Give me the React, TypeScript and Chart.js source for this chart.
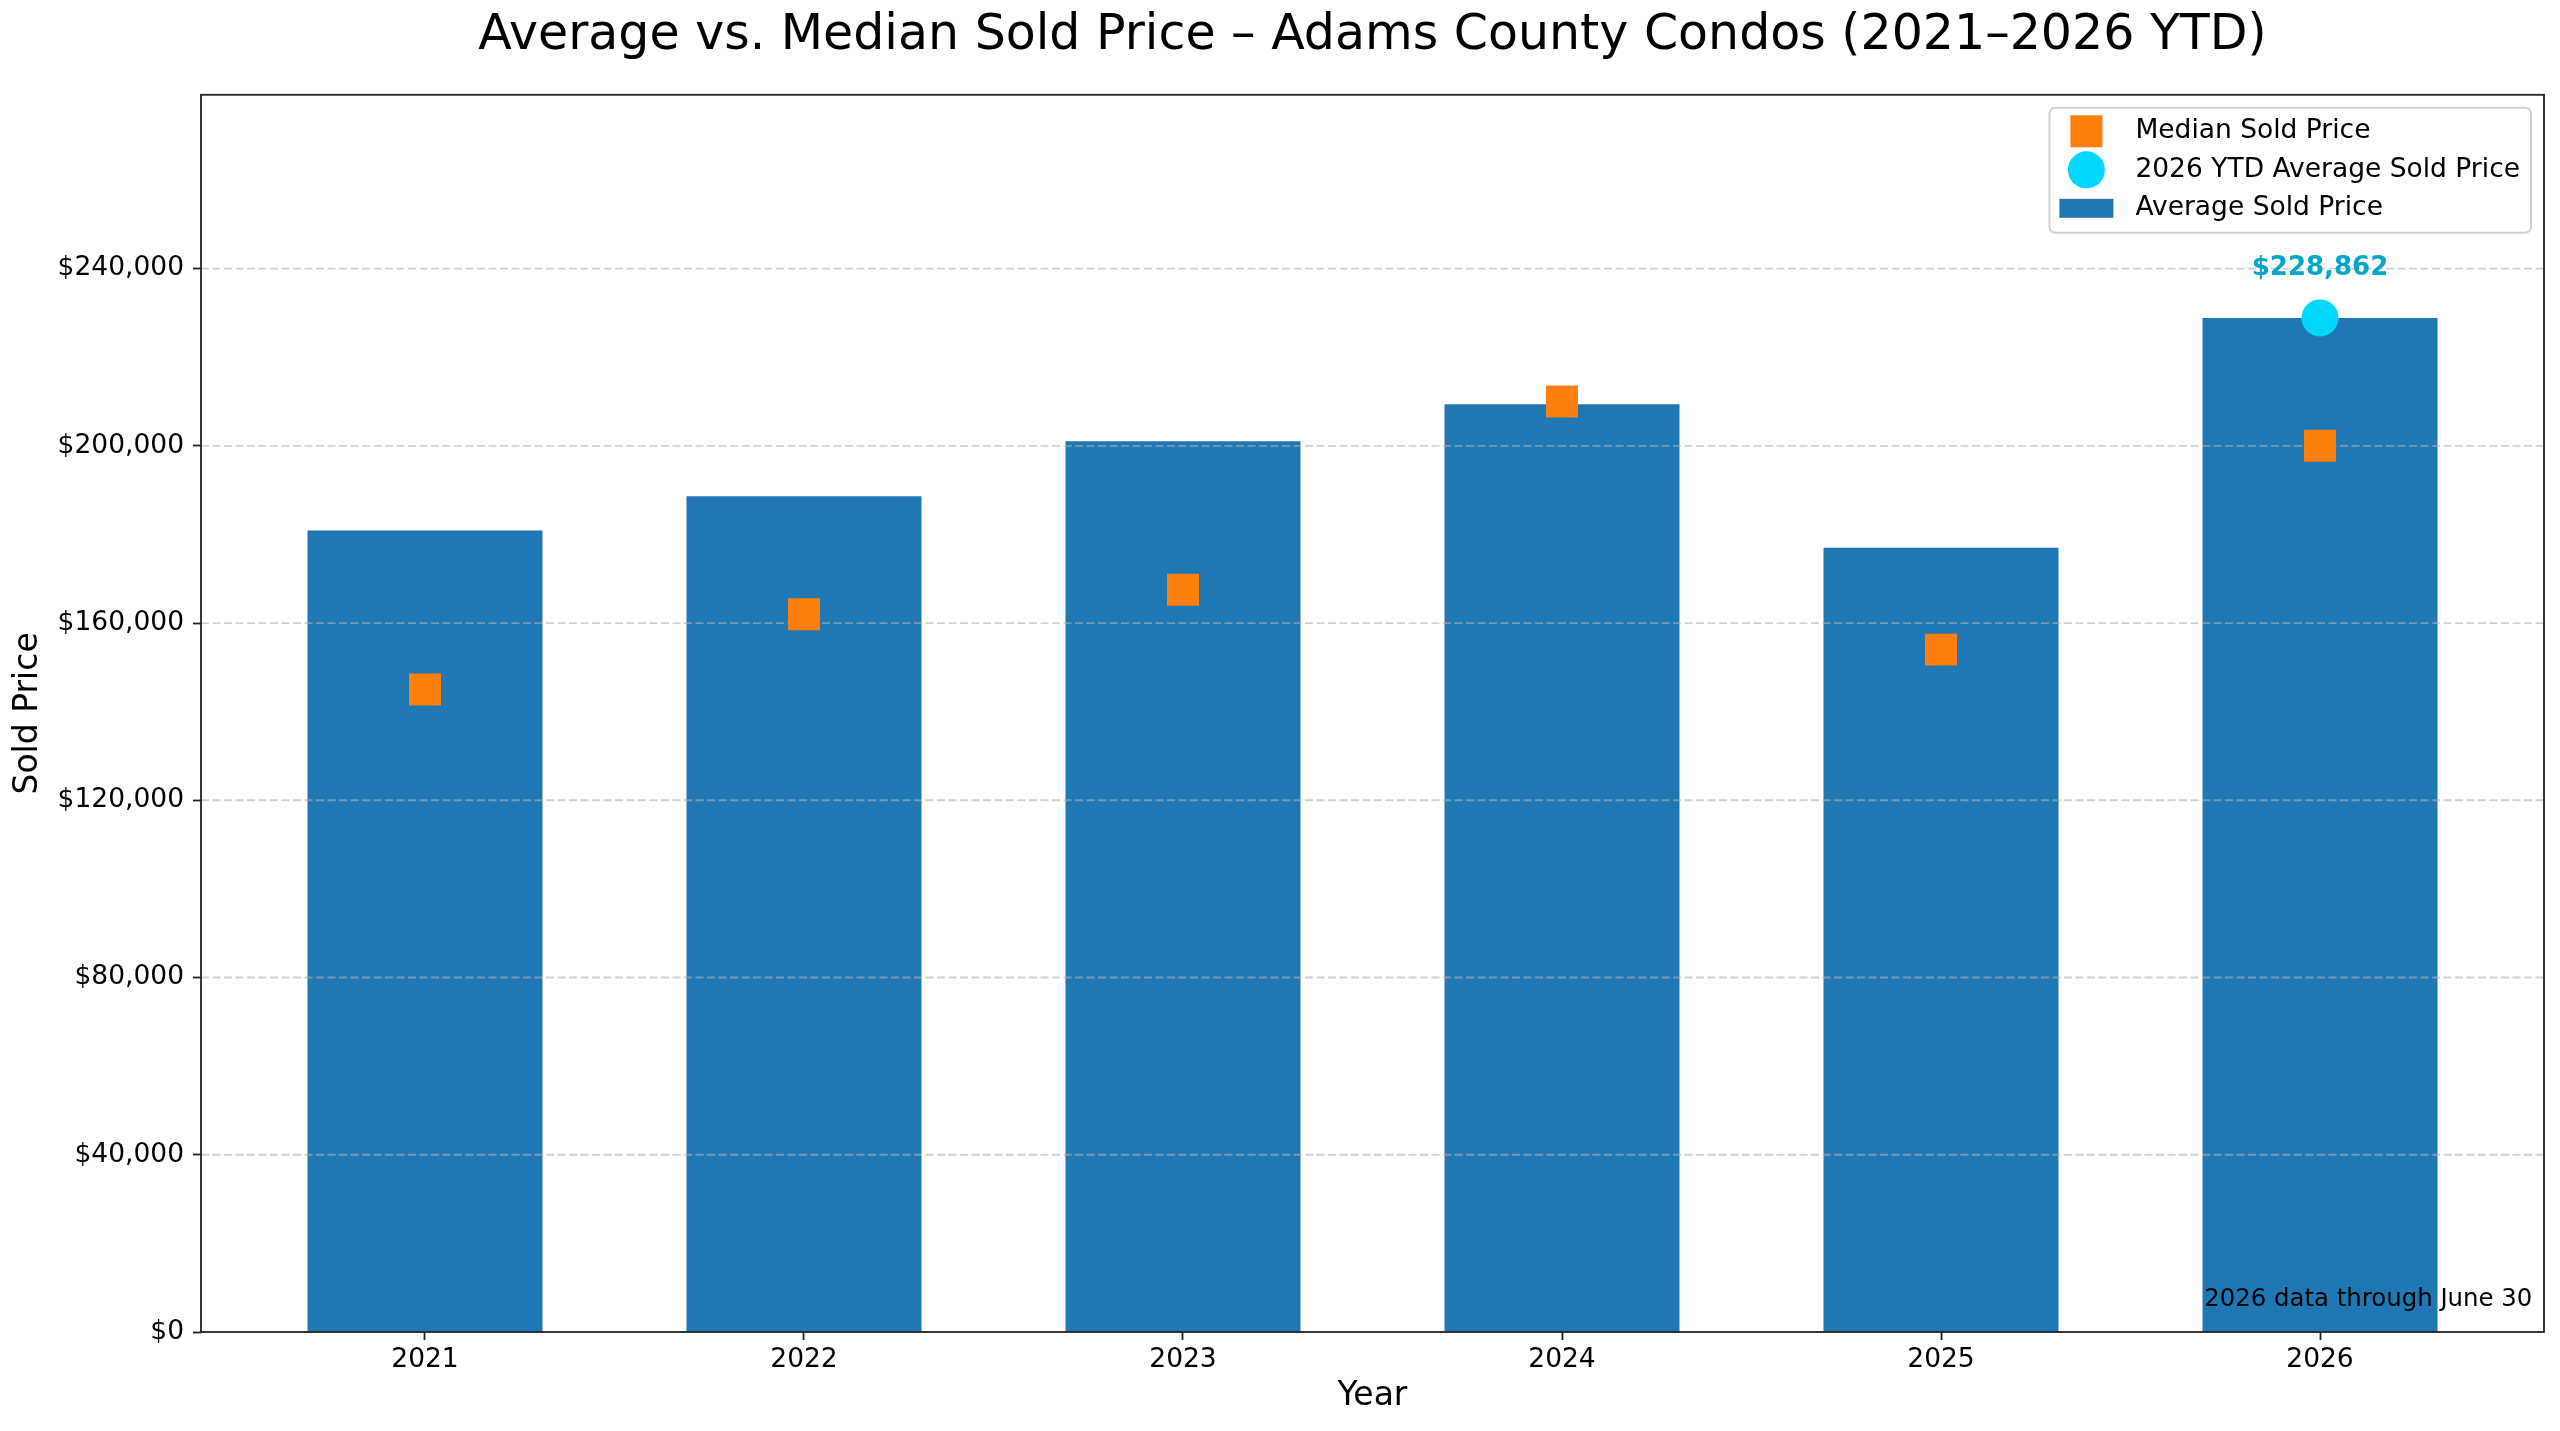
import { useEffect, useRef } from 'react';
import { Chart, registerables } from 'chart.js';

Chart.register(...registerables);

const years = ['2021', '2022', '2023', '2024', '2025', '2026'];
const avgPrice = [180900, 188600, 201000, 209400, 177000, 228862];
const medianPrice = [145000, 162000, 167500, 210000, 154000, 200000];
const ytdIndex = 5;
const ytdAvgPrice = 228862;
const yTicks = [0, 40000, 80000, 120000, 160000, 200000, 240000];
const footnote = '2026 data through June 30';
const title = 'Average vs. Median Sold Price – Adams County Condos (2021–2026 YTD)';

const BLUE = '#1f77b4';
const ORANGE = '#ff7f0e';
const CYAN = '#00d7ff';
const CYAN_TEXT = '#05a6c8';
const AXIS = '#222222';
const FONT = "'DejaVu Sans', sans-serif";

const money = (v: number) => '$' + Math.round(v).toLocaleString('en-US');

// grid lines over the bars but under the markers, like matplotlib's default zorder
const overlayPlugin = {
  id: 'overlay',
  afterDatasetDraw(chart: any, args: any) {
    if (args.meta.type !== 'bar') return;
    const { ctx, chartArea } = chart;
    const y = chart.scales.y;
    ctx.save();
    ctx.strokeStyle = 'rgba(176,176,176,0.6)';
    ctx.lineWidth = 1.8;
    ctx.setLineDash([8, 3.5]);
    yTicks.forEach((v) => {
      if (v === 0) return;
      const py = y.getPixelForValue(v);
      ctx.beginPath();
      ctx.moveTo(chartArea.left, py);
      ctx.lineTo(chartArea.right, py);
      ctx.stroke();
    });
    ctx.restore();
  },
  afterDraw(chart: any) {
    const { ctx, chartArea } = chart;
    ctx.save();

    // frame
    ctx.strokeStyle = AXIS;
    ctx.lineWidth = 1.8;
    ctx.strokeRect(chartArea.left, chartArea.top, chartArea.right - chartArea.left, chartArea.bottom - chartArea.top);

    // value label above the YTD point
    const pt = chart.getDatasetMeta(2).data[0];
    ctx.fillStyle = CYAN_TEXT;
    ctx.font = `bold 26px ${FONT}`;
    ctx.textAlign = 'center';
    ctx.textBaseline = 'middle';
    ctx.fillText(money(ytdAvgPrice), pt.x, pt.y - 50);

    // footnote
    ctx.fillStyle = '#000';
    ctx.font = `24.4px ${FONT}`;
    ctx.textAlign = 'right';
    ctx.textBaseline = 'alphabetic';
    ctx.fillText(footnote, chartArea.left + 0.995 * (chartArea.right - chartArea.left), chartArea.bottom - 26);

    // legend
    const ds = chart.data.datasets;
    const entries = [ds[1], ds[2], ds[0]];
    ctx.font = `26.5px ${FONT}`;
    const maxW = Math.max(...entries.map((d: any) => ctx.measureText(d.label).width));
    const boxW = 86 + maxW + 11;
    const boxH = 125;
    const bx = chartArea.right - 13 - boxW;
    const by = chartArea.top + 13;
    ctx.beginPath();
    ctx.roundRect(bx, by, boxW, boxH, 6);
    ctx.fillStyle = 'rgba(255,255,255,0.8)';
    ctx.fill();
    ctx.strokeStyle = '#d0d0d0';
    ctx.lineWidth = 2;
    ctx.stroke();

    const mx = bx + 37;
    entries.forEach((d: any, i: number) => {
      const cy = by + 23.5 + i * 38.5;
      ctx.fillStyle = d.backgroundColor;
      if (d.type === 'bar') {
        ctx.fillRect(mx - 27, cy - 9.5, 54, 19);
      } else if (d.pointStyle === 'rect') {
        ctx.fillRect(mx - 16, cy - 16, 32, 32);
      } else {
        ctx.beginPath();
        ctx.arc(mx, cy, 18.5, 0, Math.PI * 2);
        ctx.fill();
      }
      ctx.fillStyle = '#000';
      ctx.textAlign = 'left';
      ctx.textBaseline = 'middle';
      ctx.fillText(d.label, bx + 86, cy);
    });

    ctx.restore();
  },
};

const App = () => {
  const chartRef = useRef<HTMLCanvasElement>(null);
  const chartInstance = useRef<Chart | null>(null);

  useEffect(() => {
    document.body.style.margin = '0';
    document.body.style.overflow = 'hidden';
    document.documentElement.style.overflow = 'hidden';
    if (!chartRef.current) return;
    if (chartInstance.current) chartInstance.current.destroy();

    Chart.defaults.font.family = FONT;
    Chart.defaults.color = '#000';

    const barWidth = 0.62;
    const xPad = barWidth / 2 + 0.05 * (years.length - 1 + barWidth);
    const yMax = Math.max(...avgPrice) * 1.22;

    chartInstance.current = new Chart(chartRef.current, {
      type: 'bar',
      data: {
        datasets: [
          {
            type: 'bar',
            label: 'Average Sold Price',
            data: avgPrice.map((v, i) => ({ x: i, y: v })),
            backgroundColor: BLUE,
            borderWidth: 0,
            barPercentage: barWidth,
            categoryPercentage: 1,
            order: 3,
          },
          {
            type: 'scatter',
            label: 'Median Sold Price',
            data: medianPrice.map((v, i) => ({ x: i, y: v })),
            pointStyle: 'rect',
            pointRadius: 22.6,
            backgroundColor: ORANGE,
            borderColor: ORANGE,
            borderWidth: 0,
            order: 2,
          },
          {
            type: 'scatter',
            label: '2026 YTD Average Sold Price',
            data: [{ x: ytdIndex, y: ytdAvgPrice }],
            pointStyle: 'circle',
            pointRadius: 18.5,
            backgroundColor: CYAN,
            borderColor: CYAN,
            borderWidth: 0,
            order: 1,
          },
        ] as any,
      },
      options: {
        animation: false,
        responsive: false,
        devicePixelRatio: 1,
        events: [],
        layout: { autoPadding: false, padding: { left: 0, right: 16, top: 0, bottom: 0 } },
        plugins: {
          legend: { display: false },
          tooltip: { enabled: false },
          title: {
            display: true,
            fullSize: false,
            text: title,
            color: '#000',
            font: { size: 49, weight: 'normal', family: FONT },
            padding: { top: 7, bottom: 29 },
          },
        },
        scales: {
          x: {
            type: 'linear',
            min: -xPad,
            max: years.length - 1 + xPad,
            offset: false,
            afterBuildTicks: (scale: any) => {
              scale.ticks = years.map((_, i) => ({ value: i }));
            },
            afterFit: (scale: any) => {
              scale.height = 99;
              scale.paddingLeft = 0;
              scale.paddingRight = 0;
            },
            grid: {
              offset: false,
              drawOnChartArea: false,
              drawTicks: true,
              tickLength: 8,
              tickColor: AXIS,
              tickWidth: 1.8,
            },
            border: { display: false },
            ticks: {
              autoSkip: false,
              maxRotation: 0,
              padding: 4,
              font: { size: 26.5 },
              color: '#000',
              callback: (v: any) => years[v] ?? '',
            },
            title: {
              display: true,
              text: 'Year',
              font: { size: 33 },
              color: '#000',
              padding: { top: 0, bottom: 15 },
            },
          },
          y: {
            type: 'linear',
            min: 0,
            max: yMax,
            afterBuildTicks: (scale: any) => {
              scale.ticks = yTicks.map((v) => ({ value: v }));
            },
            afterFit: (scale: any) => {
              scale.width = 201;
            },
            grid: {
              drawOnChartArea: false,
              drawTicks: true,
              tickLength: 8,
              tickColor: AXIS,
              tickWidth: 1.8,
            },
            border: { display: false },
            ticks: {
              padding: 9,
              font: { size: 26.5 },
              color: '#000',
              callback: (v: any) => money(Number(v)),
            },
            title: {
              display: true,
              text: 'Sold Price',
              font: { size: 33 },
              color: '#000',
              padding: { top: 9, bottom: 0 },
            },
          },
        },
      } as any,
      plugins: [overlayPlugin],
    });

    return () => {
      if (chartInstance.current) {
        chartInstance.current.destroy();
        chartInstance.current = null;
      }
    };
  }, []);

  return (
    <canvas
      ref={chartRef}
      width={2560}
      height={1431}
      style={{ display: 'block', width: '2560px', height: '1431px' }}
    />
  );
};

export default App;
